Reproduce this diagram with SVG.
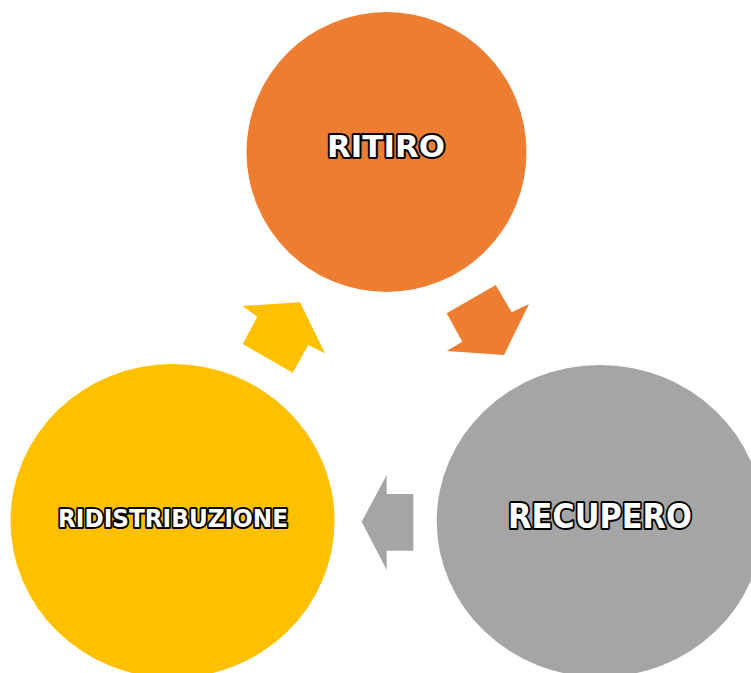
<svg xmlns="http://www.w3.org/2000/svg" width="751" height="673" viewBox="0 0 751 673">
<style>
.lbl{font-family:"DejaVu Sans","Liberation Sans",sans-serif;font-weight:bold;fill:#fff;stroke:#000;stroke-width:4;paint-order:stroke;stroke-linejoin:round;text-anchor:middle;dominant-baseline:central}
</style>
<rect width="751" height="673" fill="#fff"/>
<g id="connectors">
<polygon fill="#FFC000" points="242.3,306 300,302.3 325,353.3 308.3,345 292.7,372.7 242.7,344 257.3,316.7"/>
<polygon fill="#ED7D31" points="446.7,313.3 495.7,285 511.7,312.3 529,304 504,355 446.7,351 462.3,341.7"/>
<polygon fill="#A5A5A5" points="361.7,521.7 386.7,475 386.7,494 413.3,494 413.3,550.7 386.7,550.7 386.7,570"/>
</g>
<g id="ritiro">
<ellipse cx="386.5" cy="152" rx="140" ry="140" fill="#ED7D31"/>
<text class="lbl" x="386" y="146" font-size="31" textLength="118" lengthAdjust="spacingAndGlyphs">RITIRO</text>
</g>
<g id="recupero">
<ellipse cx="600" cy="521" rx="163.3" ry="156" fill="#A5A5A5"/>
<text class="lbl" x="600" y="516" font-size="34" textLength="184" lengthAdjust="spacingAndGlyphs">RECUPERO</text>
</g>
<g id="ridistribuzione">
<ellipse cx="172.5" cy="521" rx="162" ry="157" fill="#FFC000"/>
<text class="lbl" x="173" y="518" font-size="25" textLength="230" lengthAdjust="spacingAndGlyphs">RIDISTRIBUZIONE</text>
</g>
</svg>
